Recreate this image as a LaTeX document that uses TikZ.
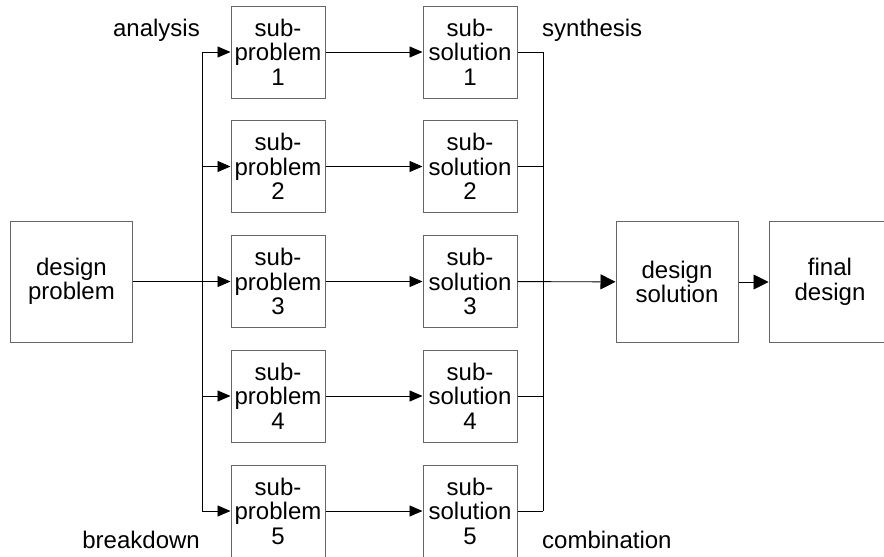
\documentclass[tikz,border=0pt]{standalone}
\usepackage{fontspec}
\setmainfont{Liberation Sans}
\usetikzlibrary{arrows.meta}
\begin{document}
\begin{tikzpicture}[x=1pt,y=-1pt,
  box/.style={draw=black!60, line width=1pt, inner sep=0pt, align=center,
    font=\fontsize{24}{24.5}\selectfont},
  subbox/.style={box, minimum width=94pt, minimum height=92pt},
  bigbox/.style={box, minimum width=122pt, minimum height=121pt},
  lbl/.style={font=\fontsize{24}{24.5}\selectfont, inner sep=0pt},
  wire/.style={line width=0.9pt, draw=black},
  arr/.style={wire, -{Triangle[length=13pt,width=11pt]}},
  bigarr/.style={wire, -{Triangle[length=15pt,width=15pt]}}]
\useasboundingbox (0,0) rectangle (884,557);
\clip (0,0) rectangle (884,557);
\fill[white] (0,0) rectangle (884,557);

\node[bigbox] (dp) at (71.5,281.5) {design\\problem};
\node[bigbox] (ds) at (677,282) {design\\solution};
\node[bigbox] (fd) at (830,282) {final\\design};

\foreach \i/\y in {1/52,2/166.5,3/281.5,4/396,5/511}{
  \node[subbox] (sp\i) at (278,\y) {sub-\\problem\\\i};
  \node[subbox] (ss\i) at (470,\y) {sub-\\solution\\\i};
}

\coordinate (bL) at (202,0);
\coordinate (bR) at (543,0);

\node[lbl, anchor=base east] (an) at (200,36) {analysis};
\node[lbl, anchor=base east] (bd) at (200,548) {breakdown};
\node[lbl, anchor=base west] (sy) at (542,36) {synthesis};
\node[lbl, anchor=base west] (cb) at (542,548) {combination};

\draw[arr] (dp) -- (sp3);
\draw[wire] (bL |- sp1) -- (bL |- sp5);
\draw[wire] (bR |- ss1) -- (bR |- ss5);
\foreach \i in {1,2,4,5}{
  \draw[arr] (bL |- sp\i) -- (sp\i);
}
\foreach \i in {1,...,5}{
  \draw[arr] (sp\i) -- (ss\i);
  \draw[wire] (ss\i) -- (bR |- ss\i);
}
\draw[bigarr] (ss3) -- (ds);
\draw[bigarr] (ds) -- (fd);
\end{tikzpicture}
\end{document}
